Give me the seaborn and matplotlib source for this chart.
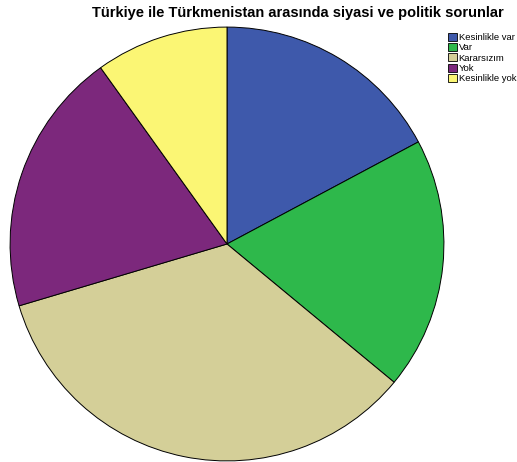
import matplotlib
matplotlib.use("Agg")
import matplotlib.pyplot as plt
import seaborn as sns
from matplotlib.patches import Patch

# yanit kategorileri ve yuzdeler
categories = ["Kesinlikle var", "Var", "Kararsızım", "Yok", "Kesinlikle yok"]
percentages = [17.2, 18.8, 34.4, 19.7, 9.9]
colors = ["#3e59ab", "#2eb84b", "#d4cf98", "#7c287c", "#fbf674"]

title = "Türkiye ile Türkmenistan arasında siyasi ve politik sorunlar"

sns.set_style("white")
plt.rcParams['font.family'] = ['Liberation Sans', 'DejaVu Sans']
plt.rcParams['text.color'] = 'black'

fig = plt.figure(figsize=(5.17, 4.62), dpi=100)
ax = fig.add_axes([9 / 517, 0.0, 436 / 517, 436 / 462])

ax.pie(percentages, colors=colors, startangle=90, counterclock=False,
       wedgeprops=dict(edgecolor="black", linewidth=0.7))
ax.set_xlim(-1.005, 1.005)
ax.set_ylim(-1.005, 1.005)
ax.set_aspect("equal")
ax.axis("off")

fig.text(298 / 517, 1 - 13 / 462, title, ha="center", va="center",
         fontsize=10.5, fontweight="bold", color="black")

handles = [Patch(facecolor=c, edgecolor="black", linewidth=0.6) for c in colors]
leg = fig.legend(handles, categories, loc="upper left",
                 bbox_to_anchor=(444 / 517, 1 - 29 / 462), frameon=False,
                 fontsize=6.8, handlelength=0.95, handleheight=0.95,
                 handletextpad=0.2, labelspacing=0.1, borderaxespad=0)
for t in leg.get_texts():
    t.set_color("black")

fig.savefig("out.png", dpi=100)
